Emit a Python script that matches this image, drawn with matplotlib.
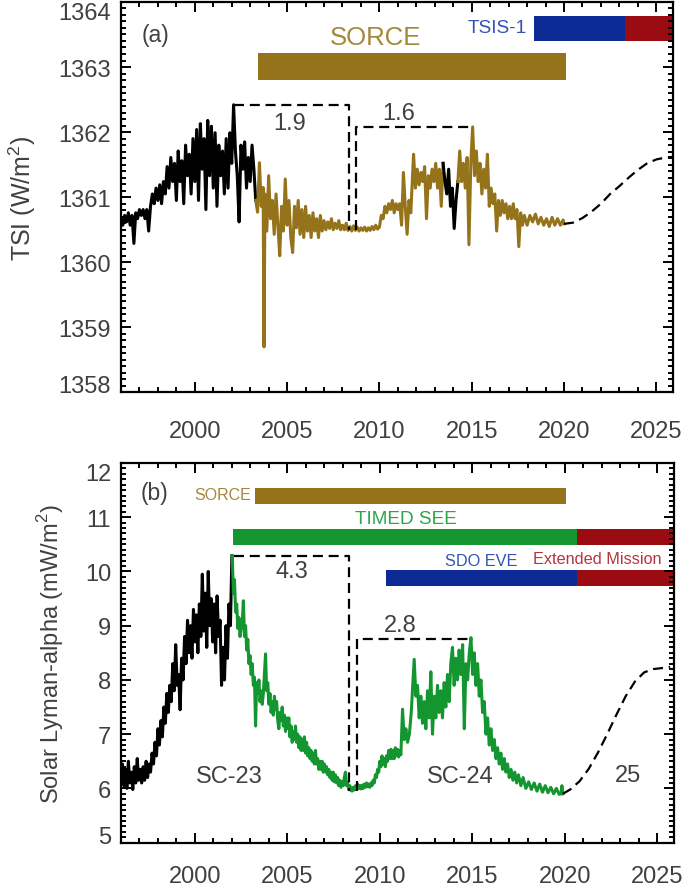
import matplotlib
matplotlib.use("Agg")
import matplotlib.pyplot as plt
from matplotlib.ticker import MultipleLocator

plt.rcParams["font.family"] = ["Liberation Sans", "DejaVu Sans"]
plt.rcParams["mathtext.fontset"] = "custom"
plt.rcParams["mathtext.rm"] = "Liberation Sans"

# ---- data ----
# (a) TSI, early record (black)
tsi_black_year = [1996.0, 1996.1, 1996.2, 1996.3, 1996.4, 1996.5, 1996.6, 1996.7, 1996.8, 1996.9,
                  1997.0, 1997.1, 1997.2, 1997.3, 1997.4, 1997.5, 1997.6, 1997.7, 1997.8, 1997.9,
                  1998.0, 1998.1, 1998.2, 1998.3, 1998.4, 1998.5, 1998.6, 1998.7, 1998.8, 1998.9,
                  1999.0, 1999.1, 1999.2, 1999.3, 1999.4, 1999.5, 1999.6, 1999.7, 1999.8, 1999.9,
                  2000.0, 2000.1, 2000.2, 2000.3, 2000.4, 2000.5, 2000.6, 2000.7, 2000.8, 2000.9,
                  2001.0, 2001.1, 2001.2, 2001.3, 2001.4, 2001.5, 2001.6, 2001.7, 2001.8, 2001.9,
                  2002.0, 2002.1, 2002.2, 2002.3, 2002.4, 2002.5, 2002.6, 2002.7, 2002.8, 2002.9,
                  2003.0, 2003.1, 2003.2, 2003.3]
tsi_black = [1360.67, 1360.57, 1360.72, 1360.62, 1360.76, 1360.57, 1360.72, 1360.29, 1360.76, 1360.67,
             1360.81, 1360.72, 1360.81, 1360.67, 1360.81, 1360.48, 1360.86, 1361.05, 1360.90, 1361.14,
             1360.95, 1361.19, 1360.90, 1361.24, 1361.05, 1361.47, 1361.14, 1361.61, 1361.24, 1361.52,
             1360.95, 1361.71, 1361.24, 1361.56, 1360.90, 1361.80, 1361.33, 1361.66, 1361.05, 1361.90,
             1361.24, 1362.04, 1360.95, 1362.13, 1361.43, 1361.90, 1360.81, 1362.18, 1361.33, 1362.09,
             1361.14, 1361.99, 1360.86, 1361.80, 1361.33, 1361.71, 1361.05, 1361.90, 1361.14, 1361.99,
             1361.52, 1362.42, 1361.71, 1361.33, 1360.62, 1361.80, 1361.43, 1361.85, 1361.14, 1361.61,
             1361.24, 1361.80, 1361.43, 1360.95]

# (a) TSI, SORCE record (gold)
tsi_sorce_year = [2003.30, 2003.40, 2003.50, 2003.60, 2003.70, 2003.75, 2003.80, 2003.90, 2004.00, 2004.10,
                  2004.20, 2004.30, 2004.40, 2004.50, 2004.60, 2004.70, 2004.80, 2004.90, 2005.00, 2005.10,
                  2005.20, 2005.30, 2005.40, 2005.50, 2005.60, 2005.70, 2005.80, 2005.90, 2006.00, 2006.10,
                  2006.20, 2006.30, 2006.40, 2006.50, 2006.60, 2006.70, 2006.80, 2006.90, 2007.00, 2007.10,
                  2007.20, 2007.30, 2007.40, 2007.50, 2007.60, 2007.70, 2007.80, 2007.90, 2008.00, 2008.10,
                  2008.20, 2008.30, 2008.40, 2008.50, 2008.60, 2008.70, 2008.80, 2008.90, 2009.00, 2009.10,
                  2009.20, 2009.30, 2009.40, 2009.50, 2009.60, 2009.70, 2009.80, 2009.90, 2010.00, 2010.10,
                  2010.20, 2010.30, 2010.40, 2010.50, 2010.60, 2010.70, 2010.80, 2010.90, 2011.00, 2011.10,
                  2011.20, 2011.30, 2011.40, 2011.50, 2011.60, 2011.70, 2011.85, 2011.95, 2012.05, 2012.15,
                  2012.25, 2012.35, 2012.45, 2012.55, 2012.65, 2012.75, 2012.85, 2012.95, 2013.05, 2013.15,
                  2013.25, 2013.35, 2013.45]
tsi_sorce = [1360.95, 1360.77, 1361.53, 1360.86, 1361.15, 1358.70, 1361.05, 1360.48, 1361.33, 1360.67,
             1360.95, 1360.43, 1361.05, 1360.57, 1360.10, 1360.86, 1360.48, 1361.28, 1360.57, 1360.95,
             1360.38, 1360.15, 1360.86, 1360.53, 1360.95, 1360.43, 1360.81, 1360.38, 1360.86, 1360.48,
             1360.72, 1360.38, 1360.76, 1360.48, 1360.67, 1360.38, 1360.72, 1360.48, 1360.64, 1360.50,
             1360.62, 1360.52, 1360.67, 1360.50, 1360.60, 1360.52, 1360.64, 1360.50, 1360.57, 1360.50,
             1360.60, 1360.49, 1360.55, 1360.48, 1360.56, 1360.49, 1360.54, 1360.48, 1360.53, 1360.49,
             1360.54, 1360.48, 1360.53, 1360.49, 1360.55, 1360.50, 1360.57, 1360.51, 1360.54, 1360.72,
             1360.67, 1360.86, 1360.76, 1360.90, 1360.81, 1360.95, 1360.76, 1360.90, 1360.81, 1360.90,
             1360.57, 1361.38, 1360.86, 1360.43, 1360.95, 1360.76, 1361.66, 1361.14, 1361.43, 1361.19,
             1361.38, 1361.24, 1361.47, 1360.67, 1361.33, 1361.14, 1361.43, 1361.24, 1361.52, 1361.14,
             1361.43, 1360.86, 1361.52]

# (a) TSI, SORCE gap filled by another record (black)
tsi_gap_year = [2013.45, 2013.55, 2013.65, 2013.75, 2013.85, 2013.95, 2014.05, 2014.15, 2014.25]
tsi_gap = [1361.52, 1361.24, 1361.05, 1361.43, 1360.86, 1361.14, 1360.52, 1360.95, 1361.24]

# (a) TSI, SORCE record after the gap (gold)
tsi_sorce2_year = [2014.25, 2014.35, 2014.45, 2014.55, 2014.65, 2014.75, 2014.85, 2014.95, 2015.05, 2015.15,
                   2015.25, 2015.35, 2015.45, 2015.55, 2015.65, 2015.75, 2015.85, 2015.95, 2016.05, 2016.15,
                   2016.25, 2016.35, 2016.45, 2016.55, 2016.65, 2016.75, 2016.85, 2016.95, 2017.05, 2017.15,
                   2017.25, 2017.35, 2017.45, 2017.55, 2017.65, 2017.75, 2017.85, 2018.00, 2018.15, 2018.30,
                   2018.45, 2018.60, 2018.75, 2018.90, 2019.05, 2019.20, 2019.35, 2019.50, 2019.65, 2019.80,
                   2019.95, 2020.00]
tsi_sorce2 = [1361.24, 1361.71, 1361.24, 1361.52, 1361.14, 1361.61, 1360.27, 1361.52, 1362.08, 1361.33,
              1361.71, 1361.24, 1361.52, 1361.05, 1361.43, 1361.14, 1361.66, 1360.86, 1361.14, 1360.90,
              1361.05, 1360.48, 1360.95, 1360.72, 1360.95, 1360.76, 1360.90, 1360.67, 1360.86, 1360.67,
              1360.90, 1360.67, 1360.81, 1360.24, 1360.76, 1360.57, 1360.72, 1360.57, 1360.72, 1360.62,
              1360.74, 1360.59, 1360.69, 1360.57, 1360.67, 1360.55, 1360.69, 1360.57, 1360.67, 1360.57,
              1360.65, 1360.59]

# (a) cycle-25 expectation (dashed)
tsi_pred_year = [2020.0, 2020.5, 2021.0, 2021.5, 2022.0, 2022.5, 2023.0, 2023.5, 2024.0, 2024.5, 2025.0, 2025.5, 2025.9]
tsi_pred = [1360.59, 1360.61, 1360.68, 1360.78, 1360.90, 1361.05, 1361.17, 1361.30, 1361.42, 1361.52, 1361.58, 1361.61, 1361.62]

# (b) Lyman-alpha, early record (black)
lya_black_year = [1996.00, 1996.08, 1996.16, 1996.24, 1996.32, 1996.40, 1996.48, 1996.56, 1996.64, 1996.72,
                  1996.80, 1996.88, 1996.96, 1997.04, 1997.12, 1997.20, 1997.28, 1997.36, 1997.44, 1997.52,
                  1997.60, 1997.68, 1997.76, 1997.84, 1997.92, 1998.00, 1998.08, 1998.16, 1998.24, 1998.32,
                  1998.40, 1998.48, 1998.56, 1998.64, 1998.72, 1998.80, 1998.88, 1998.96, 1999.04, 1999.12,
                  1999.20, 1999.28, 1999.36, 1999.44, 1999.52, 1999.60, 1999.68, 1999.76, 1999.84, 1999.92,
                  2000.00, 2000.08, 2000.16, 2000.24, 2000.32, 2000.40, 2000.48, 2000.56, 2000.64, 2000.72,
                  2000.80, 2000.88, 2000.96, 2001.04, 2001.12, 2001.20, 2001.28, 2001.36, 2001.44, 2001.52,
                  2001.60, 2001.68, 2001.76, 2001.84, 2001.92, 2002.00]
lya_black = [6.20, 6.45, 6.05, 6.35, 6.00, 6.50, 6.10, 6.30, 5.98, 6.40,
             6.10, 6.55, 6.15, 6.35, 6.10, 6.40, 6.15, 6.50, 6.20, 6.45,
             6.30, 6.65, 6.45, 6.85, 6.60, 7.10, 6.80, 7.25, 6.95, 7.50,
             7.20, 7.75, 7.40, 7.90, 7.60, 8.30, 7.80, 8.65, 7.90, 8.10,
             7.45, 8.40, 8.00, 8.80, 8.30, 9.10, 8.50, 9.00, 8.40, 9.30,
             8.70, 9.20, 8.50, 9.40, 8.80, 9.95, 8.90, 9.60, 8.60, 10.00,
             9.00, 9.50, 8.70, 9.40, 8.50, 9.55, 8.80, 9.10, 7.90, 8.60,
             8.00, 9.00, 8.40, 9.40, 9.00, 10.29]

# (b) Lyman-alpha, TIMED SEE record (green)
lya_see_year = [2002.02, 2002.08, 2002.14, 2002.20, 2002.26, 2002.32, 2002.38, 2002.44, 2002.50, 2002.56,
                2002.62, 2002.68, 2002.74, 2002.80, 2002.86, 2002.92, 2002.98, 2003.04, 2003.10, 2003.16,
                2003.22, 2003.28, 2003.34, 2003.40, 2003.46, 2003.52, 2003.58, 2003.64, 2003.70, 2003.76,
                2003.82, 2003.88, 2003.94, 2004.00, 2004.06, 2004.12, 2004.18, 2004.24, 2004.30, 2004.36,
                2004.42, 2004.48, 2004.54, 2004.60, 2004.66, 2004.72, 2004.78, 2004.84, 2004.90, 2004.96,
                2005.02, 2005.08, 2005.14, 2005.20, 2005.26, 2005.32, 2005.38, 2005.44, 2005.50, 2005.56,
                2005.62, 2005.68, 2005.74, 2005.80, 2005.86, 2005.92, 2005.98, 2006.04, 2006.10, 2006.16,
                2006.22, 2006.28, 2006.34, 2006.40, 2006.46, 2006.52, 2006.58, 2006.64, 2006.70, 2006.76,
                2006.82, 2006.88, 2006.94, 2007.00, 2007.06, 2007.12, 2007.18, 2007.24, 2007.30, 2007.36,
                2007.42, 2007.48, 2007.54, 2007.60, 2007.66, 2007.72, 2007.78, 2007.84, 2007.90, 2007.96,
                2008.02, 2008.08, 2008.14, 2008.20, 2008.26, 2008.32, 2008.38, 2008.44, 2008.50, 2008.56,
                2008.62, 2008.68, 2008.74, 2008.80, 2008.86, 2008.92, 2008.98, 2009.04, 2009.10, 2009.16,
                2009.22, 2009.28, 2009.34, 2009.40, 2009.46, 2009.52, 2009.58, 2009.64, 2009.70, 2009.76,
                2009.82, 2009.88, 2009.94, 2010.00, 2010.06, 2010.12, 2010.18, 2010.24, 2010.30, 2010.36,
                2010.42, 2010.48, 2010.54, 2010.60, 2010.66, 2010.72, 2010.78, 2010.84, 2010.90, 2010.96,
                2011.02, 2011.08, 2011.14, 2011.23, 2011.32, 2011.41, 2011.50, 2011.60, 2011.70, 2011.86,
                2011.95, 2012.04, 2012.13, 2012.22, 2012.31, 2012.40, 2012.49, 2012.58, 2012.67, 2012.76,
                2012.85, 2012.94, 2013.03, 2013.12, 2013.21, 2013.30, 2013.39, 2013.48, 2013.57, 2013.66,
                2013.75, 2013.84, 2013.93, 2014.02, 2014.11, 2014.20, 2014.29, 2014.38, 2014.48, 2014.57,
                2014.66, 2014.75, 2014.84, 2014.93, 2015.02, 2015.11, 2015.20, 2015.29, 2015.38, 2015.47,
                2015.56, 2015.65, 2015.74, 2015.83, 2015.92, 2016.01, 2016.10, 2016.19, 2016.28, 2016.37,
                2016.46, 2016.55, 2016.64, 2016.73, 2016.82, 2016.91, 2017.00, 2017.10, 2017.20, 2017.30,
                2017.40, 2017.50, 2017.63, 2017.75, 2017.90, 2018.05, 2018.20, 2018.35, 2018.50, 2018.65,
                2018.80, 2018.95, 2019.10, 2019.25, 2019.40, 2019.55, 2019.70, 2019.80, 2019.85, 2019.90]
lya_see = [10.29, 9.60, 9.85, 9.25, 9.40, 8.95, 9.15, 8.80, 8.95, 9.05,
           9.46, 8.80, 9.00, 8.55, 8.75, 8.30, 8.45, 8.10, 8.30, 7.90,
           8.05, 7.15, 7.95, 7.75, 8.00, 7.60, 7.80, 7.55, 7.75, 8.10,
           8.48, 7.80, 7.95, 7.55, 7.75, 7.40, 7.60, 7.35, 7.70, 7.45,
           7.60, 7.25, 7.10, 7.40, 7.25, 7.50, 7.15, 7.35, 7.05, 7.30,
           7.10, 7.30, 6.95, 7.15, 6.85, 7.05, 6.90, 7.15, 6.85, 7.00,
           6.75, 6.95, 6.70, 6.90, 6.70, 6.95, 6.65, 6.85, 6.60, 6.75,
           6.55, 6.70, 6.50, 6.65, 6.45, 6.70, 6.45, 6.55, 6.35, 6.50,
           6.35, 6.50, 6.30, 6.45, 6.30, 6.40, 6.25, 6.35, 6.20, 6.30,
           6.15, 6.30, 6.12, 6.25, 6.10, 6.20, 6.05, 6.15, 6.02, 6.12,
           6.05, 6.20, 6.30, 6.05, 6.10, 5.98, 6.05, 5.96, 5.95, 6.02,
           5.97, 6.05, 5.98, 6.08, 6.00, 6.05, 5.99, 6.06, 6.00, 6.08,
           6.02, 6.10, 6.03, 6.08, 6.02, 6.10, 6.05, 6.15, 6.10, 6.25,
           6.20, 6.35, 6.30, 6.50, 6.40, 6.60, 6.45, 6.55, 6.40, 6.60,
           6.50, 6.70, 6.55, 6.72, 6.55, 6.70, 6.55, 6.75, 6.60, 6.72,
           6.58, 6.70, 6.62, 7.46, 6.90, 7.10, 6.85, 7.00, 7.40, 8.38,
           7.70, 7.90, 7.30, 7.70, 7.20, 7.60, 7.10, 7.80, 7.30, 8.15,
           7.00, 7.70, 7.30, 7.90, 7.40, 7.80, 7.30, 7.95, 7.50, 8.10,
           7.60, 8.30, 8.60, 7.90, 8.40, 8.00, 8.55, 8.10, 8.65, 7.10,
           8.30, 8.00, 8.50, 8.78, 8.10, 8.50, 7.90, 8.30, 7.70, 8.00,
           7.40, 7.60, 7.00, 7.30, 6.80, 7.10, 6.70, 6.90, 6.55, 6.75,
           6.45, 6.65, 6.35, 6.55, 6.30, 6.45, 6.20, 6.35, 6.15, 6.30,
           6.10, 6.25, 6.05, 6.20, 6.00, 6.12, 5.98, 6.10, 5.95, 6.08,
           5.93, 6.05, 5.92, 6.02, 5.90, 6.00, 5.89, 5.90, 6.05, 5.90]

# (b) cycle-25 expectation (dashed)
lya_pred_year = [2019.9, 2020.3, 2020.8, 2021.3, 2021.8, 2022.3, 2022.8, 2023.3, 2023.8, 2024.3, 2024.8, 2025.3, 2025.7]
lya_pred = [5.90, 5.98, 6.13, 6.36, 6.66, 7.00, 7.36, 7.70, 7.97, 8.14, 8.20, 8.22, 8.24]

# mission bars: (start year, end year)
tsi_sorce_span = (2003.41, 2020.13)
tsi_tsis_span = (2018.36, 2023.3)
tsi_tsis_ext = (2023.3, 2025.9)
lya_sorce_span = (2003.24, 2020.07)
lya_see_span = (2002.06, 2020.69)
lya_see_ext = (2020.69, 2025.9)
lya_eve_span = (2010.33, 2020.69)
lya_eve_ext = (2020.69, 2025.9)

# cycle amplitude brackets
tsi_max23, tsi_min, tsi_max24 = 1362.42, 1360.50, 1362.08
lya_max23, lya_min, lya_max24 = 10.29, 5.95, 8.76
max23_year, min_year_a, min_year_b, max24_year = 2002.1, 2008.33, 2008.75, 2015.05

years_ticks = [2000, 2005, 2010, 2015, 2020, 2025]

# ---- colours ----
GOLD = "#94731b"
GOLD_TXT = "#a5873c"
GREEN = "#13952f"
GREEN_TXT = "#2ba64a"
BLUE = "#0b2a94"
BLUE_TXT = "#3552b5"
RED = "#9a0b12"
RED_TXT = "#b6343f"
GRAY = "#404040"
DASH = (4.5, 2.6)
LW = 2.2

fig = plt.figure(figsize=(6.85, 8.87), dpi=100)
ax1 = fig.add_axes([0.1766, 0.5564, 0.8058, 0.4403])
ax2 = fig.add_axes([0.1766, 0.0489, 0.8070, 0.4280])


def style_axis(ax, ylim, ytick_vals, xpad):
    ax.set_xlim(1996, 2025.9)
    ax.set_ylim(*ylim)
    ax.set_xticks(years_ticks)
    ax.set_yticks(ytick_vals)
    ax.xaxis.set_minor_locator(MultipleLocator(1))
    ax.yaxis.set_minor_locator(MultipleLocator(0.1))
    ax.tick_params(which="both", direction="in", top=True, right=True,
                   width=1.4, colors="black", labelcolor=GRAY, labelsize=17)
    ax.tick_params(which="major", length=7)
    ax.tick_params(which="minor", length=3.5)
    ax.tick_params(axis="x", pad=xpad)
    ax.tick_params(axis="y", pad=7)
    for sp in ax.spines.values():
        sp.set_linewidth(1.6)
    ticks = ax.yaxis.get_major_ticks()
    ticks[-1].label1.set_va("top")
    ticks[0].label1.set_va("baseline")


# ---------------- panel (a) ----------------
ax = ax1
style_axis(ax, (1358, 1364), [1358, 1359, 1360, 1361, 1362, 1363, 1364], 20)
ax.set_yticklabels(["1358", "1359", "1360", "1361", "1362", "1363", "1364"])
ax.plot(tsi_black_year, tsi_black, color="black", lw=LW)
ax.plot(tsi_sorce_year, tsi_sorce, color=GOLD, lw=LW)
ax.plot(tsi_gap_year, tsi_gap, color="black", lw=LW)
ax.plot(tsi_sorce2_year, tsi_sorce2, color=GOLD, lw=LW)
ax.plot(tsi_pred_year, tsi_pred, color="black", lw=1.6, dashes=DASH)

ax.plot([max23_year, min_year_a, min_year_a], [tsi_max23, tsi_max23, tsi_min],
        color="black", lw=1.6, dashes=DASH, zorder=4)
ax.plot([min_year_b, min_year_b, max24_year], [tsi_min, tsi_max24, tsi_max24],
        color="black", lw=1.6, dashes=DASH, zorder=4)

ax.broken_barh([(tsi_sorce_span[0], tsi_sorce_span[1] - tsi_sorce_span[0])], (1362.80, 0.41),
               facecolors=GOLD)
ax.broken_barh([(tsi_tsis_span[0], tsi_tsis_span[1] - tsi_tsis_span[0])], (1363.40, 0.39),
               facecolors=BLUE)
ax.broken_barh([(tsi_tsis_ext[0], tsi_tsis_ext[1] - tsi_tsis_ext[0])], (1363.40, 0.39),
               facecolors=RED)

ax.text(2009.77, 1363.46, "SORCE", color=GOLD_TXT, fontsize=18.5, ha="center", va="center")
ax.text(2018.0, 1363.6, "TSIS-1", color=BLUE_TXT, fontsize=13.7, ha="right", va="center")
ax.text(1997.1, 1363.5, "(a)", color=GRAY, fontsize=16.5, ha="left", va="center")
ax.text(2005.16, 1362.14, "1.9", color=GRAY, fontsize=17, ha="center", va="center")
ax.text(2011.04, 1362.29, "1.6", color=GRAY, fontsize=17, ha="center", va="center")
ax.set_ylabel("TSI (W/m$^2$)", fontsize=18, color=GRAY, labelpad=15)

# ---------------- panel (b) ----------------
ax = ax2
style_axis(ax, (5, 12), [5, 6, 7, 8, 9, 10, 11, 12], 16)
ax.plot(lya_black_year, lya_black, color="black", lw=LW)
ax.plot(lya_see_year, lya_see, color=GREEN, lw=LW)
ax.plot(lya_pred_year, lya_pred, color="black", lw=1.6, dashes=DASH)

ax.plot([max23_year, min_year_a, min_year_a], [lya_max23, lya_max23, lya_min],
        color="black", lw=1.6, dashes=DASH, zorder=4)
ax.plot([min_year_b, min_year_b, max24_year - 0.12], [lya_min, lya_max24, lya_max24],
        color="black", lw=1.6, dashes=DASH, zorder=4)

ax.broken_barh([(lya_sorce_span[0], lya_sorce_span[1] - lya_sorce_span[0])], (11.24, 0.29),
               facecolors=GOLD)
ax.broken_barh([(lya_see_span[0], lya_see_span[1] - lya_see_span[0])], (10.49, 0.29),
               facecolors=GREEN)
ax.broken_barh([(lya_see_ext[0], lya_see_ext[1] - lya_see_ext[0])], (10.49, 0.29),
               facecolors=RED)
ax.broken_barh([(lya_eve_span[0], lya_eve_span[1] - lya_eve_span[0])], (9.74, 0.29),
               facecolors=BLUE)
ax.broken_barh([(lya_eve_ext[0], lya_eve_ext[1] - lya_eve_ext[0])], (9.74, 0.29),
               facecolors=RED)

ax.text(2003.05, 11.41, "SORCE", color=GOLD_TXT, fontsize=11.5, ha="right", va="center")
ax.text(2011.4, 10.97, "TIMED SEE", color=GREEN_TXT, fontsize=13.7, ha="center", va="center")
ax.text(2015.5, 10.21, "SDO EVE", color=BLUE_TXT, fontsize=11.7, ha="center", va="center")
ax.text(2021.75, 10.23, "Extended Mission", color=RED_TXT, fontsize=11.7, ha="center", va="center")
ax.text(1997.05, 11.46, "(b)", color=GRAY, fontsize=16.5, ha="left", va="center")
ax.text(2005.25, 10.01, "4.3", color=GRAY, fontsize=17, ha="center", va="center")
ax.text(2011.09, 9.02, "2.8", color=GRAY, fontsize=17, ha="center", va="center")
ax.text(2001.87, 6.23, "SC-23", color=GRAY, fontsize=17, ha="center", va="center")
ax.text(2014.34, 6.23, "SC-24", color=GRAY, fontsize=17, ha="center", va="center")
ax.text(2023.43, 6.25, "25", color=GRAY, fontsize=17, ha="center", va="center")
ax.set_ylabel("Solar Lyman-alpha (mW/m$^2$)", fontsize=17, color=GRAY, labelpad=14)

fig.savefig("out.png", dpi=100)
